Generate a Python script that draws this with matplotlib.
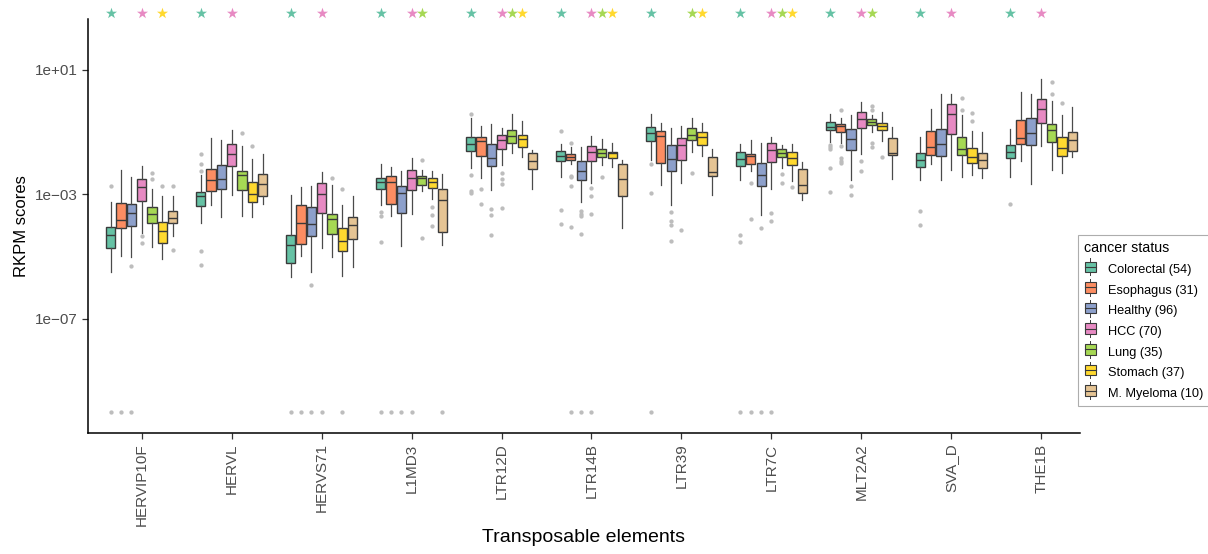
import numpy as np
import matplotlib
matplotlib.use("Agg")
import matplotlib.pyplot as plt
from matplotlib.legend_handler import HandlerBase
from matplotlib.patches import Rectangle
from matplotlib.lines import Line2D

plt.rcParams['font.family'] = ['Liberation Sans', 'DejaVu Sans']

# ---- data (log10 RKPM) ----
elements = ['HERVIP10F', 'HERVL', 'HERVS71', 'L1MD3', 'LTR12D', 'LTR14B',
            'LTR39', 'LTR7C', 'MLT2A2', 'SVA_D', 'THE1B']
statuses = ['Colorectal', 'Esophagus', 'Healthy', 'HCC', 'Lung', 'Stomach', 'M. Myeloma']
counts = [54, 31, 96, 70, 35, 37, 10]
colors = ['#66C2A5', '#FC8D62', '#8DA0CB', '#E78AC3', '#A6D854', '#FFD92F', '#E5C494']

whis_lo = [
    [-5.51, -4.98, -5.03, -4.25, -4.71, -5.09, -4.34],
    [-3.91, -3.33, -3.73, -3.02, -3.69, -3.73, -3.32],
    [-5.66, -4.98, -5.51, -4.74, -5.01, -5.63, -5.33],
    [-3.36, -3.69, -4.65, -3.62, -2.89, -3.16, -4.63],
    [-2.16, -2.46, -2.86, -2.05, -1.68, -1.81, -2.83],
    [-2.44, -2.01, -3.24, -2.63, -2.06, -2.11, -4.07],
    [-1.91, -2.70, -3.33, -2.64, -1.63, -1.78, -3.01],
    [-2.54, -2.24, -3.67, -2.83, -2.14, -2.56, -3.17],
    [-1.33, -1.34, -2.55, -1.69, -1.01, -1.27, -2.52],
    [-2.54, -2.03, -2.55, -2.23, -2.44, -2.39, -2.48],
    [-2.44, -1.94, -2.66, -1.46, -2.23, -2.32, -1.81],
]
q1 = [
    [-4.74, -4.10, -4.01, -3.23, -3.93, -4.58, -3.93],
    [-3.38, -2.90, -2.84, -2.10, -2.87, -3.25, -3.05],
    [-5.20, -4.59, -4.33, -3.61, -4.29, -4.83, -4.45],
    [-2.82, -3.32, -3.61, -2.87, -2.70, -2.81, -4.22],
    [-1.61, -1.77, -2.10, -1.55, -1.36, -1.47, -2.17],
    [-1.94, -1.91, -2.54, -1.94, -1.81, -1.84, -3.04],
    [-1.27, -1.98, -2.26, -1.91, -1.25, -1.40, -2.42],
    [-2.10, -2.04, -2.73, -1.97, -1.81, -2.07, -2.95],
    [-0.94, -0.99, -1.59, -0.88, -0.76, -0.94, -1.74],
    [-2.13, -1.75, -1.77, -1.07, -1.72, -1.98, -2.16],
    [-1.84, -1.37, -1.42, -0.71, -1.33, -1.76, -1.62],
]
medians = [
    [-4.31, -3.83, -3.59, -2.77, -3.64, -4.19, -3.77],
    [-3.07, -2.55, -2.52, -1.70, -2.37, -3.00, -2.68],
    [-4.63, -3.93, -3.97, -2.99, -3.80, -4.51, -3.99],
    [-2.61, -2.61, -2.97, -2.49, -2.46, -2.59, -3.19],
    [-1.39, -1.30, -1.82, -1.25, -1.11, -1.22, -1.92],
    [-1.78, -1.79, -2.24, -1.65, -1.66, -1.68, -2.52],
    [-1.04, -1.12, -1.86, -1.42, -1.10, -1.17, -2.29],
    [-1.85, -1.76, -2.38, -1.59, -1.66, -1.82, -2.70],
    [-0.82, -0.79, -1.23, -0.59, -0.66, -0.80, -1.68],
    [-1.91, -1.48, -1.39, -0.42, -1.54, -1.81, -1.90],
    [-1.63, -1.18, -1.04, -0.27, -0.94, -1.52, -1.26],
]
q3 = [
    [-4.04, -3.29, -3.32, -2.50, -3.40, -3.88, -3.55],
    [-2.93, -2.17, -2.07, -1.37, -2.26, -2.59, -2.34],
    [-4.31, -3.36, -3.42, -2.65, -3.62, -4.10, -3.74],
    [-2.46, -2.40, -2.72, -2.22, -2.40, -2.46, -2.83],
    [-1.17, -1.17, -1.38, -1.10, -0.93, -1.08, -1.68],
    [-1.61, -1.71, -1.94, -1.45, -1.53, -1.64, -2.03],
    [-0.84, -0.97, -1.42, -1.20, -0.88, -1.00, -1.79],
    [-1.63, -1.69, -2.00, -1.34, -1.55, -1.65, -2.17],
    [-0.66, -0.73, -0.89, -0.34, -0.59, -0.69, -1.20],
    [-1.67, -0.97, -0.91, -0.10, -1.17, -1.52, -1.66],
    [-1.42, -0.62, -0.55, 0.08, -0.73, -1.16, -0.99],
]
whis_hi = [
    [-3.26, -2.23, -2.44, -2.09, -2.84, -3.05, -3.07],
    [-2.38, -1.18, -1.26, -0.94, -1.43, -1.87, -1.69],
    [-3.02, -2.75, -2.72, -2.29, -2.70, -3.34, -3.07],
    [-2.01, -2.13, -2.26, -1.82, -2.22, -2.26, -2.35],
    [-0.56, -0.80, -0.75, -0.86, -0.42, -0.63, -1.56],
    [-1.39, -1.47, -1.48, -1.13, -1.21, -1.36, -1.90],
    [-0.42, -0.72, -0.88, -0.79, -0.56, -0.69, -1.54],
    [-1.39, -1.25, -1.36, -1.16, -1.41, -1.39, -1.97],
    [-0.41, -0.56, -0.46, -0.03, -0.45, -0.34, -0.84],
    [-1.15, -0.27, 0.24, 0.24, -0.46, -0.96, -0.98],
    [-0.89, 0.28, 0.22, 0.70, 0.01, -0.46, -0.18],
]
outliers = [
    [[-2.72], [], [-5.31], [-4.33, -4.58], [-2.32, -2.50], [-2.72], [-2.72, -4.80]],
    [[-1.70, -2.03, -2.24, -4.84, -5.29], [], [], [], [-1.02], [-1.45], []],
    [[], [], [-5.92], [], [-2.48], [-2.83], []],
    [[-3.56, -3.70, -4.52], [], [], [], [-1.91, -4.41], [-3.40, -3.65, -4.03], []],
    [[-0.43, -2.38, -2.88, -2.97], [-2.82, -3.32], [-3.46, -3.65, -4.32],
     [-2.32, -2.51, -2.66, -3.43], [], [], []],
    [[-0.96, -3.50, -3.97], [-1.36, -2.40, -2.43, -2.72, -4.04],
     [-3.53, -3.62, -3.70, -4.29], [-2.81, -3.04, -3.62], [-2.43], [], []],
    [[-2.02, -2.95], [], [-3.56, -3.87, -3.99, -4.51], [-4.14], [-2.31], [], []],
    [[-4.31, -4.55], [-2.63, -3.80], [-4.09], [-3.59, -3.85], [-2.36, -2.64], [-2.78], []],
    [[-1.42, -1.47, -1.53, -2.14, -2.91], [-0.28, -1.43, -1.84, -1.92, -2.00],
     [-2.72, -3.02], [-1.93, -2.24], [-0.15, -0.28, -1.36, -1.47], [-1.81], []],
    [[-3.54, -3.99], [], [], [], [0.10, -0.28], [-0.37, -0.63], []],
    [[-3.30], [], [], [], [0.62, 0.22], [-0.05], []],
]
# samples with zero score (drawn at the floor value)
zero_floor = -10.0
has_zero = [
    [1, 1, 1, 0, 0, 0, 0],
    [0, 0, 0, 0, 0, 0, 0],
    [1, 1, 1, 1, 0, 1, 0],
    [1, 1, 1, 1, 0, 0, 1],
    [0, 0, 0, 0, 0, 0, 0],
    [0, 1, 1, 1, 0, 0, 0],
    [1, 0, 0, 0, 0, 0, 0],
    [1, 1, 1, 1, 0, 0, 0],
    [0, 0, 0, 0, 0, 0, 0],
    [0, 0, 0, 0, 0, 0, 0],
    [0, 0, 0, 0, 0, 0, 0],
]
signif = [
    [1, 0, 0, 1, 0, 1, 0],
    [1, 0, 0, 1, 0, 0, 0],
    [1, 0, 0, 1, 0, 0, 0],
    [1, 0, 0, 1, 1, 0, 0],
    [1, 0, 0, 1, 1, 1, 0],
    [1, 0, 0, 1, 1, 1, 0],
    [1, 0, 0, 0, 1, 1, 0],
    [1, 0, 0, 1, 1, 1, 0],
    [1, 0, 0, 1, 1, 0, 0],
    [1, 0, 0, 1, 0, 0, 0],
    [1, 0, 0, 1, 0, 0, 0],
]

# ---- figure ----
W, H = 1208, 554
fig = plt.figure(figsize=(W / 100, H / 100), dpi=100)
ax = fig.add_axes([87.7 / W, 121 / H, (1080 - 87.7) / W, (433 - 19) / H])
ax.set_yscale('log')

slot = 0.1146
bw = 0.102
n_st = len(statuses)
edge = '#3a3a3a'

for i in range(len(elements)):
    for k in range(n_st):
        pos = i + (k - (n_st - 1) / 2) * slot
        fl = list(outliers[i][k])
        if has_zero[i][k]:
            fl.append(zero_floor)
        st = dict(med=10 ** medians[i][k], q1=10 ** q1[i][k], q3=10 ** q3[i][k],
                  whislo=10 ** whis_lo[i][k], whishi=10 ** whis_hi[i][k],
                  fliers=10 ** np.array(fl))
        ax.bxp([st], positions=[pos], widths=bw, patch_artist=True, showcaps=False,
               boxprops=dict(facecolor=colors[k], edgecolor=edge, linewidth=1.0),
               medianprops=dict(color=edge, linewidth=1.0),
               whiskerprops=dict(color='#4a4a4a', linewidth=0.9),
               flierprops=dict(marker='o', markersize=3.1, markerfacecolor='#bdbdbd',
                               markeredgecolor='none'),
               manage_ticks=False)
        if signif[i][k]:
            ax.scatter([pos], [10 ** 2.83], marker='*', s=70, color=colors[k],
                       clip_on=False, zorder=5, linewidths=0)

ax.set_xlim(-0.60, 10.43)
ax.set_ylim(10 ** -10.68, 10 ** 2.64)
ax.set_xticks(range(len(elements)))
ax.set_xticklabels(elements, rotation=90, fontsize=11, color='#4d4d4d')
ax.set_yticks([1e-7, 1e-3, 1e1])
ax.set_yticklabels(['1e\u221207', '1e\u221203', '1e+01'], fontsize=11, color='#4d4d4d')
ax.yaxis.set_minor_locator(matplotlib.ticker.NullLocator())
ax.tick_params(axis='both', length=4, width=0.9, color='#333333', pad=3.5)

for s in ['top', 'right']:
    ax.spines[s].set_visible(False)
for s in ['left', 'bottom']:
    ax.spines[s].set_linewidth(1.1)

ax.set_ylabel('RKPM scores', fontsize=12, labelpad=4)
ax.set_xlabel('Transposable elements', fontsize=14, labelpad=2)


# legend keys drawn as small boxplots
class BoxKey(HandlerBase):
    def create_artists(self, legend, orig, xd, yd, width, height, fontsize, trans):
        cx = xd + width / 2
        bw_ = width * 0.95
        bh = height * 1.0
        y0 = yd + height / 2 - bh / 2
        r = Rectangle((cx - bw_ / 2, y0), bw_, bh, facecolor=orig.get_facecolor(),
                      edgecolor=edge, linewidth=0.8, transform=trans)
        m = Line2D([cx - bw_ / 2, cx + bw_ / 2], [yd + height / 2] * 2, color=edge,
                   linewidth=0.8, transform=trans)
        w1 = Line2D([cx, cx], [yd - height * 0.3, y0], color=edge, linewidth=0.7,
                    transform=trans)
        w2 = Line2D([cx, cx], [y0 + bh, yd + height * 1.3], color=edge, linewidth=0.7,
                    transform=trans)
        return [w1, w2, r, m]


handles = [Rectangle((0, 0), 1, 1, facecolor=c) for c in colors]
labels = [f'{s} ({n})' for s, n in zip(statuses, counts)]
leg = fig.legend(handles, labels, title='cancer status', loc='upper left',
                 bbox_to_anchor=(1078 / W, (H - 235) / H), frameon=True,
                 fancybox=False, edgecolor='#999999', fontsize=9.2,
                 title_fontsize=10.3, handler_map={Rectangle: BoxKey()},
                 handlelength=0.95, handleheight=0.9, handletextpad=0.9,
                 labelspacing=0.62, borderpad=0.5, borderaxespad=0,
                 alignment='left')
leg.get_frame().set_linewidth(0.8)

fig.savefig('out.png', dpi=100)
